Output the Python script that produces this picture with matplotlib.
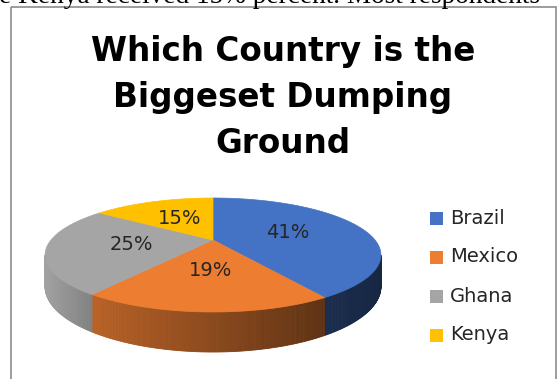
#Importing Libraries
import numpy as np
import matplotlib.pyplot as plt
from matplotlib.patches import Polygon, Rectangle
from matplotlib.colors import to_rgb

#Chart data
countries = ["Brazil", "Mexico", "Ghana", "Kenya"]
shares = [41, 19, 25, 15]
colors = ["#4472C4", "#ED7D31", "#A5A5A5", "#FFC000"]

title_lines = ["Which Country is the", "Biggeset Dumping", "Ground"]
caption = "e Kenya received 15% percent. Most respondents"

#Pie geometry in pixels (y grows downward)
cx, cy = 213, 240        # where the slices meet
rx = 162                 # horizontal radius at the centre line
back, front = 198, 312   # far and near rim of the top face
thick = 40               # side height at the front

#Perspective factors for the tilted disc
r = (2 * cy - front - back) / (back - front)
q = back * (1 + r) - cy
d = thick * (1 - r)


def project(rho, t):
    u = rho * np.cos(t)
    v = rho * np.sin(t)
    den = 1 + r * v
    return cx + rx * u / den, (cy + q * v) / den, den


#Figure
fig = plt.figure(figsize=(5.58, 3.79), dpi=100)
ax = fig.add_axes([0, 0, 1, 1])
ax.set_xlim(0, 558)
ax.set_ylim(379, 0)
ax.axis("off")

#Text of the page above the chart
ax.text(-1, 3, caption, fontsize=19.6, family="Liberation Serif",
        va="baseline", ha="left", color="black")

#Chart border
ax.add_patch(Rectangle((11, 7), 545, 390, fill=False, edgecolor="#8c8c8c", lw=1.2))

#Slice angles, starting at 12 o'clock and going clockwise
angles = [np.pi / 2]
for s in shares:
    angles.append(angles[-1] - 2 * np.pi * s / 100)

#Visible part of the side wall
t_lo = -np.pi + np.arcsin(r)
t_hi = -np.arcsin(r)
half_w = rx / np.sqrt(1 - r ** 2)

#Side walls with shading from left to right
for i in range(len(shares)):
    a0, a1 = angles[i], angles[i + 1]
    lo, hi = max(a1, t_lo), min(a0, t_hi)
    if lo >= hi:
        continue
    base = np.array(to_rgb(colors[i]))
    ts = np.linspace(hi, lo, max(int(np.degrees(hi - lo)) * 2, 2))
    for t0, t1 in zip(ts[:-1], ts[1:]):
        x0, y0, k0 = project(1, t0)
        x1, y1, k1 = project(1, t1)
        quad = [(x0, y0), (x1, y1), (x1, y1 + d / k1), (x0, y0 + d / k0)]
        pos = ((x0 + x1) / 2 - (cx - half_w)) / (2 * half_w)
        f = np.interp(pos, [0, 0.14, 0.83, 1], [0.98, 0.78, 0.40, 0.34])
        c = np.clip(base * f, 0, 1)
        ax.add_patch(Polygon(quad, closed=True, facecolor=c, edgecolor=c, lw=0.6))

#Top faces
for i in range(len(shares)):
    a0, a1 = angles[i], angles[i + 1]
    ts = np.linspace(a0, a1, 200)
    pts = [(cx, cy)] + [project(1, t)[:2] for t in ts]
    ax.add_patch(Polygon(pts, closed=True, facecolor=colors[i], edgecolor=colors[i], lw=0.5))

#Percentage labels
for i in range(len(shares)):
    mid = (angles[i] + angles[i + 1]) / 2
    lx, ly, _ = project(0.5, mid)
    ax.text(lx, ly, f"{shares[i]}%", fontsize=14, family="DejaVu Sans",
            ha="center", va="center", color="#262626")

#Title
for j, line in enumerate(title_lines):
    ax.text(283, 61 + 46 * j, line, fontsize=23.5, family="DejaVu Sans", fontweight="bold",
            ha="center", va="baseline", color="black")

#Legend
for i, name in enumerate(countries):
    yy = 218 + 39 * i
    ax.add_patch(Rectangle((430, yy - 6.5), 13, 13, facecolor=colors[i], edgecolor="none"))
    ax.text(450, yy, name, fontsize=14, family="DejaVu Sans", ha="left", va="center", color="#262626")

fig.savefig("out.png", dpi=100)
